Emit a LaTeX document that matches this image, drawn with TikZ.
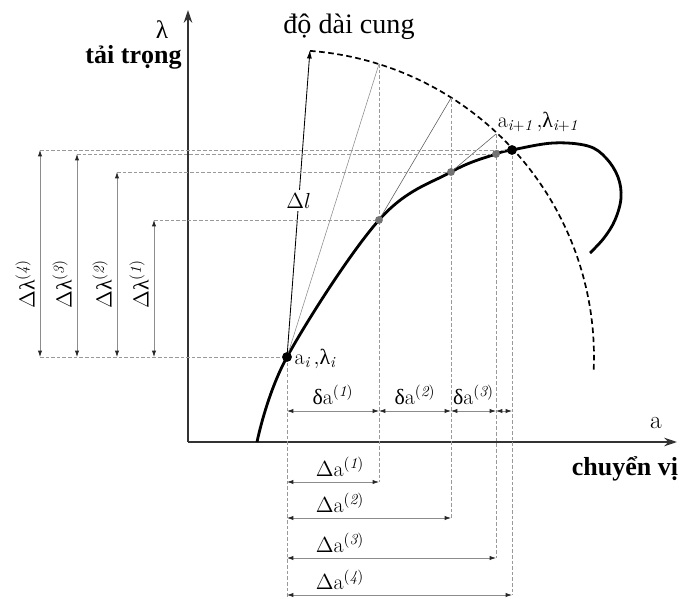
\RequirePackage{fix-cm}
\documentclass[tikz,border=0pt]{standalone}
\usepackage{fontspec}
\usepackage{tikz}
\usetikzlibrary{arrows.meta,positioning,calc}
\newfontfamily\vn{Liberation Serif}
\newcommand{\lam}{{\vn λ}}
\newcommand{\dlt}{{\vn δ}}

\begin{document}
\begin{tikzpicture}[x=0.025cm,y=-0.025cm,
  axis/.style={line width=1.3pt,black!80,-{Stealth[length=9pt,width=6pt]}},
  curve/.style={line width=2pt,black},
  guide/.style={black!40,line width=0.5pt,dash pattern=on 2.5pt off 1.5pt},
  chord/.style={black!65,line width=0.4pt},
  dim/.style={black!45,line width=0.5pt,
    {Latex[length=4.5pt,width=3pt,color=black!85]}-{Latex[length=4.5pt,width=3pt,color=black!85]}},
  lbl/.style={font=\fontsize{15.5}{18}\selectfont,inner sep=1pt,text=black},
  vnlbl/.style={font=\vn\bfseries\fontsize{18.5}{20}\selectfont,inner sep=0pt}]
  \useasboundingbox (0,0) rectangle (680,599);

  % axes
  \coordinate (O) at (188,442);
  \coordinate (ytip) at (188,10);
  \coordinate (xtip) at (677,442);
  \draw[axis] (O) -- (ytip);
  \draw[axis] (O) -- (xtip);
  \node[font=\fontsize{18}{20}\selectfont] (lamax) at (162,30) {\lam};
  \node[vnlbl,anchor=base] (taitrong) at (133.5,63) {tải trọng};
  \node[font=\fontsize{18}{20}\selectfont] (aax) at (656,423) {a};
  \node[vnlbl,anchor=base] (chuyenvi) at (625,475) {chuyển vị};

  % points on the path and on the arc
  \coordinate (ai) at (287,357);
  \coordinate (p1) at (379,220);
  \coordinate (p2) at (451,172);
  \coordinate (p3) at (496,154);
  \coordinate (p4) at (512,150);
  \coordinate (t)  at (310,50);
  \coordinate (q1) at (379,64);
  \coordinate (q2) at (451,98);
  \coordinate (q3) at (496,134);

  % load-displacement path
  \draw[curve] plot[smooth,tension=0.6] coordinates {(257,442) (ai) (p1) (p2) (p3) (p4)
    (553,143) (588,146) (606,158) (618,177) (621,198) (615,220) (604,238) (590,253)};

  % arc length
  \draw[line width=1.2pt,dash pattern=on 4pt off 2.5pt]
    plot[domain=85.7:-2.45,samples=80] ({287+307*cos(\x)},{357-307*sin(\x)});
  \node[font=\vn\fontsize{20}{22}\selectfont,anchor=base] (arclbl) at (349,33) {độ dài cung};
  \draw[black,line width=0.6pt,-{Latex[length=6pt,width=3.5pt]}] (ai) -- (t)
    node[lbl,pos=0.51,fill=white,inner sep=2pt] (dl) {$\Delta l$};
  \draw[chord,black!45] (ai) -- (q1);
  \draw[chord] (p1) -- (q2);
  \draw[chord] (p2) -- (q3);

  % load increments
  \foreach \x/\p/\k in {154/p1/1,117/p2/2,77/p3/3,40/p4/4}{
    \coordinate (lt\k) at (\x,0 |- \p);
    \coordinate (lb\k) at (\x,0 |- ai);
    \draw[guide] (lt\k) -- (\p);
    \draw[dim] (lb\k) -- (lt\k);
    \node[lbl,rotate=90] (dlam\k) at (\x-15,284) {$\Delta$\lam$^{(\mathit{\k})}$};
  }
  \draw[guide] (lb4) -- (ai);

  % displacement increments
  \coordinate (b0) at (287,597);
  \draw[guide] (ai) -- (b0);
  \foreach \k/\x/\y/\q in {1/379/482/q1,2/451/518/q2,3/496/558/q3,4/512/595/p4}{
    \coordinate (s\k) at (287,\y);
    \coordinate (e\k) at (\x,\y);
    \draw[guide] (\q) -- (e\k);
    \draw[dim] (s\k) -- (e\k);
    \node[lbl] (da\k) at (340,\y-15) {$\Delta\mathrm{a}^{(\mathit{\k})}$};
  }
  \foreach \k/\x in {0/287,1/379,2/451,3/496,4/512}
    \coordinate (d\k) at (\x,411);
  \draw[dim] (d0) -- (d1) node[lbl,midway,above=3pt] (sa1) {\dlt$\mathrm{a}^{(\mathit{1})}$};
  \draw[dim] (d1) -- (d2) node[lbl,midway,above=3pt] (sa2) {\dlt$\mathrm{a}^{(\mathit{2})}$};
  \draw[dim] (d2) -- (d3) node[lbl,midway,above=3pt] (sa3) {\dlt$\mathrm{a}^{(\mathit{3})}$};
  \draw[dim] (d3) -- (d4);

  % dots
  \fill[black!55] (p1) circle (2.8pt) (p2) circle (2.8pt) (p3) circle (2.8pt);
  \fill (ai) circle (3.5pt) (p4) circle (3.5pt);
  \node[lbl,anchor=west] (ailbl) at (293,359) {$\mathrm{a}_{\mathit{i}}\,,$\lam$_{\mathit{i}}$};
  \node[lbl] (ai1lbl) at (538,122) {$\mathrm{a}_{\mathit{i+1}}\,,$\lam$_{\mathit{i+1}}$};
\end{tikzpicture}
\end{document}
